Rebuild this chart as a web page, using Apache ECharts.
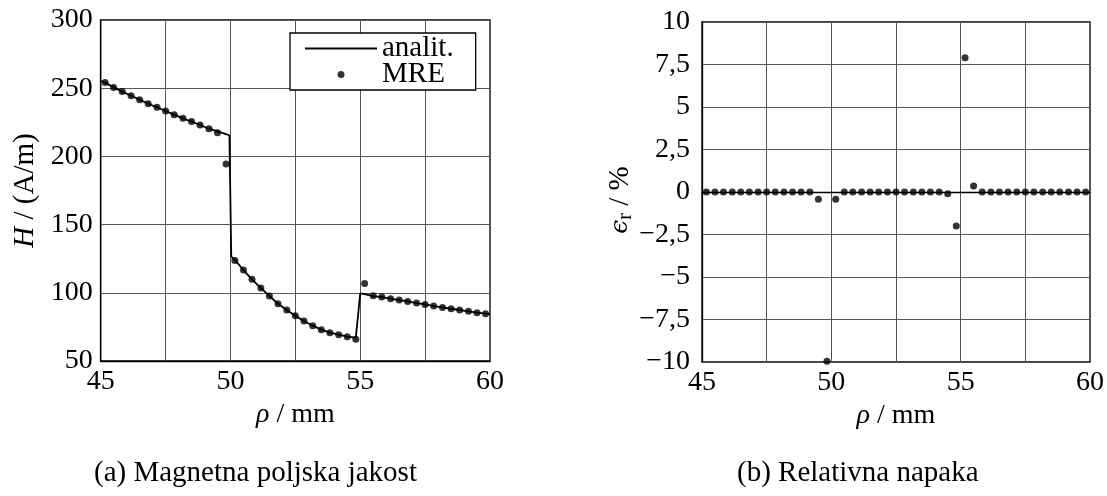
<!DOCTYPE html>
<html>
<head>
<meta charset="utf-8">
<script src="https://cdn.jsdelivr.net/npm/echarts@6/dist/echarts.min.js"></script>
<style>
html,body{margin:0;padding:0;background:#fff;}
#chart{width:1107px;height:496px;}
</style>
</head>
<body>
<div id="chart"></div>
<script>
// MRE sample positions (mm)
var rho = [45.17,45.50,45.83,46.17,46.50,46.83,47.17,47.50,47.83,48.17,48.50,48.83,49.17,49.50,49.83,
           50.17,50.50,50.83,51.17,51.50,51.83,52.17,52.50,52.83,53.17,53.50,53.83,54.17,54.50,54.83,
           55.17,55.50,55.83,56.17,56.50,56.83,57.17,57.50,57.83,58.17,58.50,58.83,59.17,59.50,59.83];
// MRE field strength H (A/m)
var hMRE = [254.1,250.6,247.5,244.5,241.6,238.6,236.0,233.3,230.6,227.9,225.5,223.0,220.3,217.4,194.4,
            123.6,116.7,109.9,103.5,97.7,92.0,87.4,83.2,79.3,75.9,73.0,70.8,69.3,67.8,65.9,
            106.9,97.9,96.9,95.7,94.7,93.7,92.5,91.5,90.3,89.3,88.3,87.4,86.4,85.4,84.7];
// analytic solution
var analitRho = [45.00,45.17,45.50,45.83,46.17,46.50,46.83,47.17,47.50,47.83,48.17,48.50,48.83,49.17,49.50,49.83,49.96,
                 50.03,50.17,50.50,50.83,51.17,51.50,51.83,52.17,52.50,52.83,53.17,53.50,53.83,54.17,54.50,54.83,54.90,
                 55.00,55.17,55.50,55.83,56.17,56.50,56.83,57.17,57.50,57.83,58.17,58.50,58.83,59.17,59.50,59.83,60.00];
var analitH = [255.3,254.1,250.6,247.5,244.5,241.6,238.6,236.0,233.3,230.6,227.9,225.5,223.0,220.3,218.3,216.4,215.3,
               126.5,124.1,116.7,109.9,103.5,97.7,92.0,87.4,83.2,79.3,75.9,73.0,70.8,69.3,67.9,67.2,67.0,
               99.6,99.1,97.6,96.9,95.7,94.7,93.7,92.5,91.5,90.3,89.3,88.3,87.4,86.4,85.4,84.7,84.5];
// relative error (%)
var errRel = [0,0,0,0,0,0,0,0,0,0,0,0,0,-0.43,-9.95,
              -0.43,0,0,0,0,0,0,0,0,0,0,0,0,-0.1,-2.0,
              7.9,0.35,0,0,0,0,0,0,0,0,0,0,0,0,0];
var xTicks = [45,50,55,60];
var captionA = '(a) Magnetna poljska jakost';
var captionB = '(b) Relativna napaka';

var FONT = "'Liberation Serif', 'DejaVu Serif', serif";
var FS = 28;
function pairs(xs, ys){ return xs.map(function(x,i){ return [x, ys[i]]; }); }
function xLabel(v){ return xTicks.indexOf(v) >= 0 ? String(v) : ''; }
function commaLabel(v){ return String(v).replace('.', ',').replace('-', '\u2212'); }

var gridLine = {show:true, lineStyle:{color:'#555', width:1}};
var chart = echarts.init(document.getElementById('chart'), null, {renderer:'canvas'});
chart.setOption({
  animation:false,
  backgroundColor:'#fff',
  textStyle:{fontFamily:FONT},
  title:[
    {text:captionA, left:89, top:454, textStyle:{fontFamily:FONT, fontSize:29, fontWeight:'normal', color:'#000'}},
    {text:captionB, left:732, top:454, textStyle:{fontFamily:FONT, fontSize:29, fontWeight:'normal', color:'#000'}}
  ],
  grid:[
    {left:100.7, right:617, top:20, bottom:135, show:true, borderColor:'#000', borderWidth:1.3, backgroundColor:'transparent'},
    {left:702, right:17, top:22, bottom:134, show:true, borderColor:'#000', borderWidth:1.3, backgroundColor:'transparent'}
  ],
  legend:{
    orient:'vertical', left:290, top:33,
    backgroundColor:'#fff', borderColor:'#000', borderWidth:1.3,
    padding:[1,22,1,15], itemGap:-3, itemWidth:72, itemHeight:7,
    textStyle:{fontFamily:FONT, fontSize:29, color:'#000'},
    data:[
      {name:'analit.', icon:'path://M0 0H100V2.6H0Z'},
      {name:'MRE', icon:'circle'}
    ]
  },
  xAxis:[
    {type:'value', gridIndex:0, min:45, max:60, interval:2.5,
     name:'{i|ρ} / mm', nameLocation:'middle', nameGap:34,
     nameTextStyle:{fontFamily:FONT, fontSize:FS, color:'#000', rich:{i:{fontFamily:FONT, fontSize:FS, fontStyle:'italic'}}},
     axisLine:{show:true, lineStyle:{color:'#000', width:1.3}}, axisTick:{show:false},
     axisLabel:{formatter:xLabel, fontFamily:FONT, fontSize:FS, color:'#000', margin:7, showMinLabel:true, showMaxLabel:true},
     splitLine:gridLine},
    {type:'value', gridIndex:1, min:45, max:60, interval:2.5,
     name:'{i|ρ} / mm', nameLocation:'middle', nameGap:34,
     nameTextStyle:{fontFamily:FONT, fontSize:FS, color:'#000', rich:{i:{fontFamily:FONT, fontSize:FS, fontStyle:'italic'}}},
     axisLine:{show:true, lineStyle:{color:'#000', width:1.3}}, axisTick:{show:false},
     axisLabel:{formatter:xLabel, fontFamily:FONT, fontSize:FS, color:'#000', margin:7, showMinLabel:true, showMaxLabel:true},
     splitLine:gridLine}
  ],
  yAxis:[
    {type:'value', gridIndex:0, min:50, max:300, interval:50,
     name:'{i|H} / (A/m)', nameLocation:'middle', nameGap:61, nameRotate:90,
     nameTextStyle:{fontFamily:FONT, fontSize:29, color:'#000', rich:{i:{fontFamily:FONT, fontSize:29, fontStyle:'italic'}}},
     axisLine:{show:true, lineStyle:{color:'#000', width:1.3}}, axisTick:{show:false},
     axisLabel:{fontFamily:FONT, fontSize:FS, color:'#000', margin:8, showMinLabel:true, showMaxLabel:true},
     splitLine:gridLine},
    {type:'value', gridIndex:1, min:-10, max:10, interval:2.5,
     name:'{i|ϵ}{s|r} / %', nameLocation:'middle', nameGap:66, nameRotate:90,
     nameTextStyle:{fontFamily:FONT, fontSize:29, color:'#000', padding:[0,16,0,0],
       rich:{i:{fontFamily:"'DejaVu Serif', serif", fontSize:25, fontStyle:'italic'},
             s:{fontFamily:FONT, fontSize:20, verticalAlign:'bottom', padding:[10,0,0,0]}}},
     axisLine:{show:true, lineStyle:{color:'#000', width:1.3}}, axisTick:{show:false},
     axisLabel:{formatter:commaLabel, fontFamily:FONT, fontSize:FS, color:'#000', margin:12, showMinLabel:true, showMaxLabel:true},
     splitLine:gridLine}
  ],
  series:[
    {name:'analit.', type:'line', xAxisIndex:0, yAxisIndex:0, data:pairs(analitRho, analitH),
     showSymbol:false, symbol:'none', lineStyle:{color:'#000', width:1.8}, itemStyle:{color:'#000'}, z:3},
    {name:'MRE', type:'scatter', xAxisIndex:0, yAxisIndex:0, data:pairs(rho, hMRE),
     symbol:'circle', symbolSize:7, itemStyle:{color:'#000'}, z:4},
    {name:'err', type:'scatter', xAxisIndex:1, yAxisIndex:1, data:pairs(rho, errRel),
     symbol:'circle', symbolSize:7, itemStyle:{color:'#000'}, z:4}
  ]
});
</script>
</body>
</html>
